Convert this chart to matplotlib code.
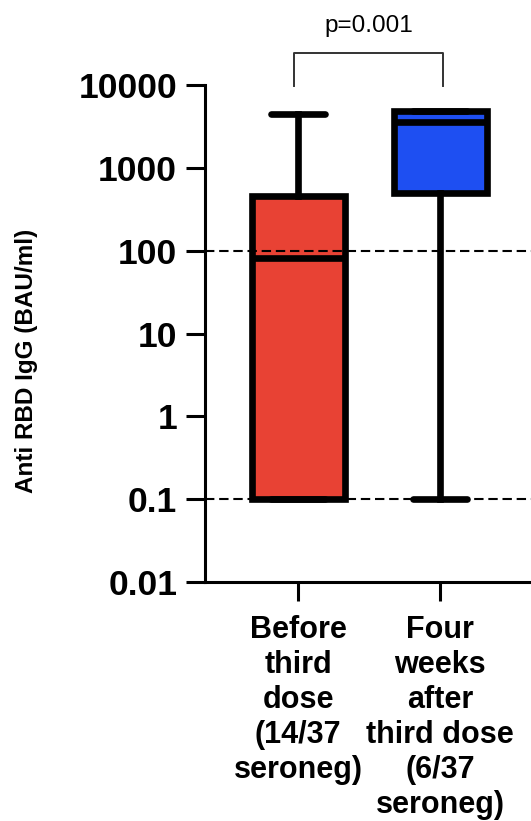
import numpy as np
import matplotlib.pyplot as plt

# box statistics (BAU/ml)
groups = ["Before\nthird\ndose\n(14/37\nseroneg)",
          "Four\nweeks\nafter\nthird dose\n(6/37\nseroneg)"]
whislo = [0.1, 0.1]
q1 = [0.1, 490]
med = [81, 3600]
q3 = [460, 4850]
whishi = [4470, 4850]
box_colors = ["#E84234", "#1E4FF2"]
ref_lines = [100, 0.1]
p_text = "p=0.001"

plt.rcParams['font.family'] = ['Liberation Sans', 'DejaVu Sans']

fig = plt.figure(figsize=(5.31, 8.21), dpi=100)
ax = fig.add_axes([0.386, 0.291, 0.62, 0.6055])

stats = []
for i in range(len(groups)):
    stats.append(dict(whislo=whislo[i], q1=q1[i], med=med[i], q3=q3[i],
                      whishi=whishi[i], fliers=[]))

bp = ax.bxp(stats, positions=[1, 2], widths=0.655, patch_artist=True,
            showfliers=False,
            boxprops=dict(linewidth=4.8, edgecolor="black"),
            medianprops=dict(color="black", linewidth=4.8),
            whiskerprops=dict(color="black", linewidth=4.8),
            capprops=dict(color="black", linewidth=4.8, solid_capstyle="round"),
            capwidths=0.38)
for patch, c in zip(bp["boxes"], box_colors):
    patch.set_facecolor(c)

for v in ref_lines:
    ax.axhline(v, color="black", linestyle=(0, (4.5, 2.3)), linewidth=1.5, zorder=5)

ax.set_yscale("log")
ax.set_ylim(0.01, 10000)
ax.set_xlim(0.345, 2.66)
ax.set_yticks([0.01, 0.1, 1, 10, 100, 1000, 10000])
ax.set_yticklabels(["0.01", "0.1", "1", "10", "100", "1000", "10000"],
                   fontsize=25.5, fontweight="bold")
ax.yaxis.set_minor_locator(plt.NullLocator())
ax.set_xticks([1, 2])
ax.set_xticklabels(groups, fontsize=22, fontweight="bold", linespacing=1.22)
ax.tick_params(axis="both", length=14, width=2.2, pad=6)
ax.tick_params(axis="x", pad=9.5)

for side in ["top", "right"]:
    ax.spines[side].set_visible(False)
for side in ["left", "bottom"]:
    ax.spines[side].set_linewidth(2.2)

ax.set_ylabel("Anti RBD IgG (BAU/ml)", fontsize=17.5, fontweight="bold")
ax.yaxis.set_label_coords(-0.508, 0.445)

# significance bracket above the boxes
ax.plot([0.97, 0.97, 2.02, 2.02], [9600, 24500, 24500, 9600],
        color="#333333", linewidth=1.4, clip_on=False)
ax.text(1.495, 43600, p_text, ha="center", va="baseline", fontsize=17.5,
        clip_on=False)

fig.savefig("out.png", dpi=100)
